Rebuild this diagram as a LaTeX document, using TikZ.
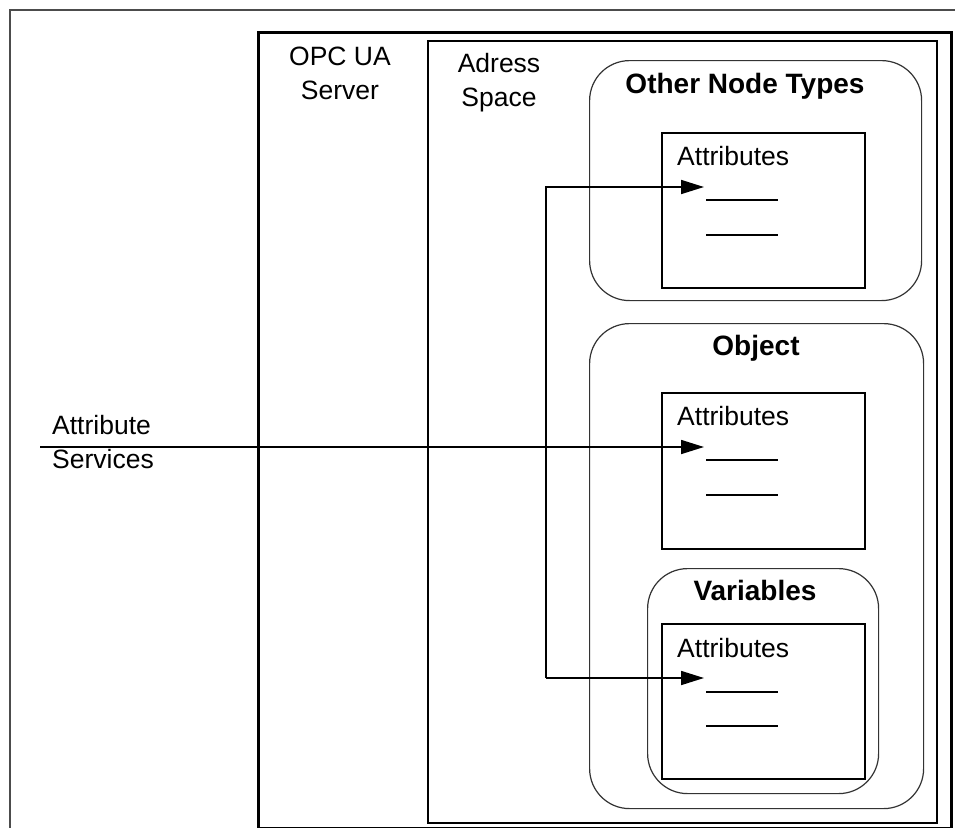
\documentclass[tikz,border=0pt]{standalone}
\usepackage{fontspec}
\setmainfont{Liberation Sans}
\usetikzlibrary{arrows.meta}
\tikzset{
  frame/.style={draw,inner sep=0pt,anchor=north west},
  group/.style={frame,rounded corners=40pt,line width=1.2pt,draw=black!80},
  attrbox/.style={frame,line width=1.5pt,minimum width=203pt,minimum height=155pt},
  label/.style={inner sep=0pt,align=center,font=\fontsize{26.5}{34}\selectfont},
  title/.style={inner sep=0pt,anchor=base,font=\fontsize{28}{32}\selectfont\bfseries},
  link/.style={line width=1.7pt,-{Triangle[length=23pt,width=14pt]}}
}
\begin{document}
\begin{tikzpicture}[x=1pt,y=-1pt]
\useasboundingbox (0,0) rectangle (955,827);
% outer frame
\draw[line width=2pt,black!70] (10,830) |- (960,10);
% server and address space
\node (server) [frame,line width=3pt,minimum width=693pt,minimum height=796pt] at (257,31) {};
\node (space) [frame,line width=1.5pt,minimum width=509pt,minimum height=782pt] at (427,40) {};
\node (server label) [label] at (340,73) {OPC UA\\Server};
\node (space label) [label] at (499,83) {Adress\\Space};
% node groups
\node (other) [group,minimum width=332pt,minimum height=240pt] at (589,60) {};
\node (object) [group,minimum width=334pt,minimum height=485pt] at (589,323) {};
\node (vars) [group,minimum width=231pt,minimum height=225pt] at (647,568) {};
\node (other title) [title] at (745,93) {Other Node Types};
\node (object title) [title] at (756,355) {Object};
\node (vars title) [title] at (755,600) {Variables};
% attribute boxes
\node (attr1) [attrbox] at (661,132) {};
\node (attr2) [attrbox,minimum height=156pt] at (661,392) {};
\node (attr3) [attrbox] at (661,623) {};
\foreach \b/\y in {attr1/165,attr2/425,attr3/657} {
  \node [label,anchor=base west] at (677,\y) {Attributes};
}
\foreach \y in {200,235,460,495,692,726} {
  \draw[line width=1.5pt] (706,\y) -- (778,\y);
}
% attribute services
\node (svc label) [label,align=left,anchor=west] at (52,442) {Attribute\\Services};
\coordinate (svc) at (40,447);
\coordinate (tip1) at (704,187);
\coordinate (tip2) at (704,447);
\coordinate (tip3) at (704,678);
\coordinate (bend) at (546,678);
\draw[link] (svc) -- (tip2);
\draw[link] (bend) |- (tip1);
\draw[link] (bend) -- (tip3);
\end{tikzpicture}
\end{document}
